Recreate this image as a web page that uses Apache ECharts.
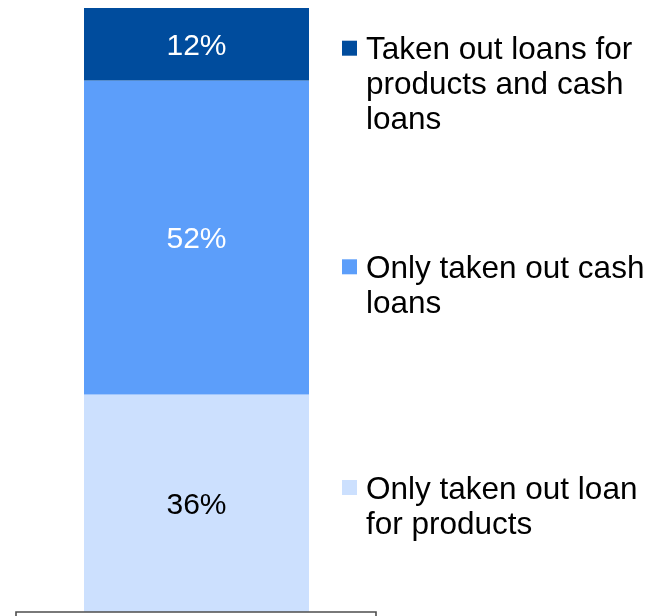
<!DOCTYPE html>
<html>
<head>
<meta charset="utf-8">
<style>
  html, body { margin: 0; padding: 0; background: #ffffff; }
  #chart { width: 650px; height: 616px; }
</style>
<script src="https://cdn.jsdelivr.net/npm/echarts@6/dist/echarts.min.js"></script>
</head>
<body>
<div id="chart"></div>
<script>
// Share of borrowers by type of loan taken out (%)
const categories = [''];
const seriesNames = [
  'Only taken out loan for products',
  'Only taken out cash loans',
  'Taken out loans for products and cash loans'
];
const legendLines = [
  ['Only taken out loan', 'for products'],
  ['Only taken out cash', 'loans'],
  ['Taken out loans for', 'products and cash', 'loans']
];
const productsOnly = [36];
const cashOnly = [52];
const productsAndCash = [12];

const colors = ['#CCE0FE', '#5C9EFA', '#004C9D'];
const labelColors = ['#000000', '#ffffff', '#ffffff'];
const values = [productsOnly, cashOnly, productsAndCash];

const FONT = 'Liberation Sans, Arial, sans-serif';
const LINE_H = 35;
const TEXT_DROP = 5; // extra space above the text so it sits level with the marker

// one legend block per series; leading spacer lines keep the marker level with the first text line
const legendIconTops = [480, 259.3, 40.7];
const legends = seriesNames.map((name, i) => {
  const lines = legendLines[i];
  const blanks = lines.length - 1;
  const total = lines.length + blanks;
  const blockTop = 7.5 - (total * LINE_H + TEXT_DROP) / 2;
  const spacerH = LINE_H + TEXT_DROP / blanks;
  return {
    data: [name],
    left: 342,
    top: legendIconTops[i] + blockTop,
    padding: 0,
    orient: 'vertical',
    icon: 'rect',
    itemWidth: 15,
    itemHeight: 15,
    selectedMode: false,
    formatter: () => '{g| }\n'.repeat(blanks) + lines.map(l => '{t|' + l + '}').join('\n'),
    textStyle: {
      fontFamily: FONT,
      fontSize: 31.5,
      lineHeight: LINE_H,
      color: '#000000',
      padding: [0, 0, 0, 4],
      rich: {
        g: { fontFamily: FONT, fontSize: 10, lineHeight: spacerH, height: spacerH },
        t: { fontFamily: FONT, fontSize: 31.5, lineHeight: LINE_H, color: '#000000' }
      }
    }
  };
});

const chart = echarts.init(document.getElementById('chart'), null, { renderer: 'canvas' });
chart.setOption({
  animation: false,
  backgroundColor: '#ffffff',
  color: colors,
  legend: legends,
  grid: { left: 84, width: 225, top: 8, bottom: 4, containLabel: false },
  xAxis: {
    type: 'category',
    data: categories,
    axisLine: { show: false },
    axisTick: { show: false },
    axisLabel: { show: false }
  },
  yAxis: {
    type: 'value',
    min: 0,
    max: 100,
    show: false,
    splitLine: { show: false }
  },
  series: seriesNames.map((name, i) => ({
    name: name,
    type: 'bar',
    stack: 'total',
    barWidth: '100%',
    data: values[i],
    itemStyle: { color: colors[i] },
    label: {
      show: true,
      position: 'inside',
      offset: [0, 2],
      formatter: '{c}%',
      fontFamily: FONT,
      fontSize: 30,
      color: labelColors[i]
    }
  })),
  graphic: [{
    type: 'rect',
    z: 100,
    shape: { x: 16, y: 612, width: 360, height: 30 },
    style: { fill: 'transparent', stroke: '#4d4d4d', lineWidth: 1.6 }
  }]
});
</script>
</body>
</html>
